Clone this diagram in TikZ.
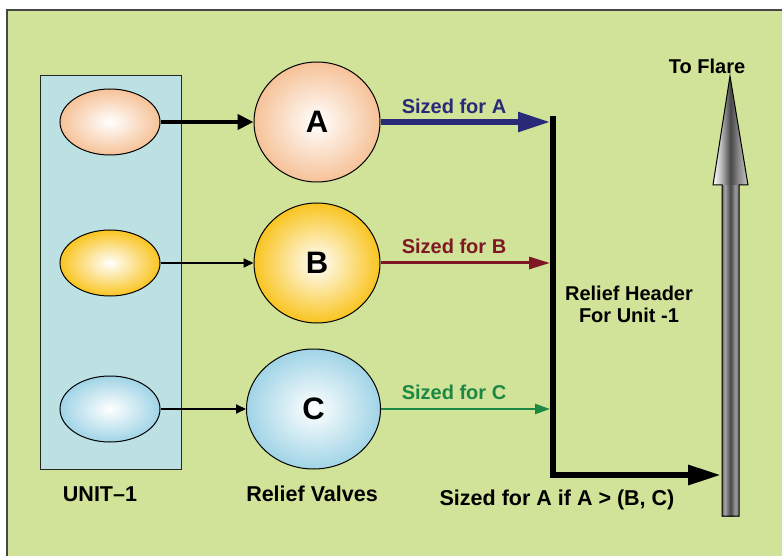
\documentclass[tikz,border=0pt]{standalone}
\usepackage{fontspec}
\setmainfont{Liberation Sans}
\usetikzlibrary{shapes.geometric,arrows.meta}

\definecolor{bgGreen}{RGB}{209,226,153}
\definecolor{unitBlue}{RGB}{189,224,227}
\definecolor{peach}{RGB}{246,194,152}
\definecolor{gold}{RGB}{249,196,32}
\definecolor{iceBlue}{RGB}{160,212,230}
\definecolor{navy}{RGB}{40,42,120}
\definecolor{maroon}{RGB}{125,24,36}
\definecolor{pipeGreen}{RGB}{28,136,68}
\definecolor{frameGray}{RGB}{70,70,70}

% metallic look of the flare stack
\pgfdeclarehorizontalshading{flareshaft}{100bp}{%
  color(0bp)=(black!60); color(25bp)=(black!60); color(33bp)=(black!35);
  color(50bp)=(black!72); color(64bp)=(black!40); color(75bp)=(black!55);
  color(100bp)=(black!55)}
\pgfdeclarehorizontalshading{flarehead}{100bp}{%
  color(0bp)=(white); color(25bp)=(white); color(36bp)=(black!25);
  color(50bp)=(black!72); color(62bp)=(black!45); color(75bp)=(black!22);
  color(100bp)=(black!22)}

\tikzset{
  unitbox/.style={draw=black!85, line width=1pt, fill=unitBlue},
  vessel/.style={ellipse, draw, line width=1pt, minimum width=100pt,
    minimum height=66pt, inner sep=0pt, inner color=white},
  valve/.style={ellipse, draw, line width=1pt, minimum height=120pt,
    inner sep=0pt, inner color=white,
    font=\fontsize{31}{31}\selectfont\bfseries},
  lbl/.style={font=\fontsize{20}{24}\selectfont\bfseries, inner sep=0pt},
  biglbl/.style={font=\fontsize{21.5}{26}\selectfont\bfseries, inner sep=0pt},
  feedthick/.style={line width=4.5pt, -{Triangle[length=16pt,width=15pt]}},
  feedthin/.style={line width=2pt, -{Triangle[length=10pt,width=9pt]}},
  header/.style={line width=6pt, line join=miter},
}

\begin{document}
\begin{tikzpicture}[x=1pt,y=-1pt]
  % page and frame
  \fill[white] (0,0) rectangle (782,556);
  \useasboundingbox (0,0) rectangle (782,556);
  \clip (0,0) rectangle (782,556);
  \draw[frameGray, line width=1.5pt, fill=bgGreen] (7,10) rectangle (795,575);

  % process unit with its three vessels
  \node[unitbox, minimum width=141pt, minimum height=393pt, inner sep=0pt]
    (unit) at (110.5,272.5) {};
  \node[vessel, outer color=peach] (v1) at (110,122) {};
  \node[vessel, outer color=gold]  (v2) at (110,263) {};
  \node[vessel, outer color=iceBlue] (v3) at (110,409) {};

  % relief valves
  \node[valve, minimum width=126pt, outer color=peach] (A) at (317,122) {A};
  \node[valve, minimum width=126pt, outer color=gold]  (B) at (317,263) {B};
  \node[valve, minimum width=134pt, outer color=iceBlue] (C) at (313.5,409) {C};

  % vessel to valve lines
  \draw[feedthick] (v1.east) -- (A.west);
  \draw[feedthin] (v2.east) -- (B.west);
  \draw[feedthin] (v3.east) -- (C.west);

  % relief header
  \coordinate (hTop) at (553,116);
  \coordinate (hBot) at (553,475);
  \coordinate (inA) at (550,122);
  \coordinate (inB) at (550,263);
  \coordinate (inC) at (550,409);
  \coordinate (flareIn) at (721,475);
  \draw[header, -{Triangle[length=33pt,width=19pt]}] (hTop) -- (hBot) -- (flareIn);

  % valve discharge lines
  \draw[navy, line width=5.5pt, -{Triangle[length=32pt,width=19pt]}] (A.east) -- (inA);
  \draw[maroon, line width=3pt, -{Triangle[length=21pt,width=12pt]}] (B.east) -- (inB);
  \draw[pipeGreen, line width=2.5pt, -{Triangle[length=15pt,width=10pt]}] (C.east) -- (inC);

  % flare stack
  \shade[shading=flareshaft] (722,184) rectangle (739,516);
  \shade[shading=flarehead] (713,185) -- (730,76) -- (748,185) -- cycle;
  \draw[line width=1pt, line join=miter]
    (722,516) -- (722,185) -- (713,185) -- (730,76) -- (748,185)
    -- (739,185) -- (739,516) -- cycle;

  % labels
  \node[lbl, navy] (lA) at (454,106) {Sized for A};
  \node[lbl, maroon] (lB) at (454,246) {Sized for B};
  \node[lbl, pipeGreen] (lC) at (454,392) {Sized for C};
  \node[lbl] (flare) at (707,66) {To Flare};
  \node[lbl, align=center, font=\fontsize{20}{22}\selectfont\bfseries]
    (hdr) at (629,304) {Relief Header\\For Unit -1};
  \node[biglbl] (sizing) at (557,500) {Sized for A if A > (B, C)};
  \node[biglbl] (unitLbl) at (100,494) {UNIT–1};
  \node[biglbl] (valvesLbl) at (312,494) {Relief Valves};
\end{tikzpicture}
\end{document}
